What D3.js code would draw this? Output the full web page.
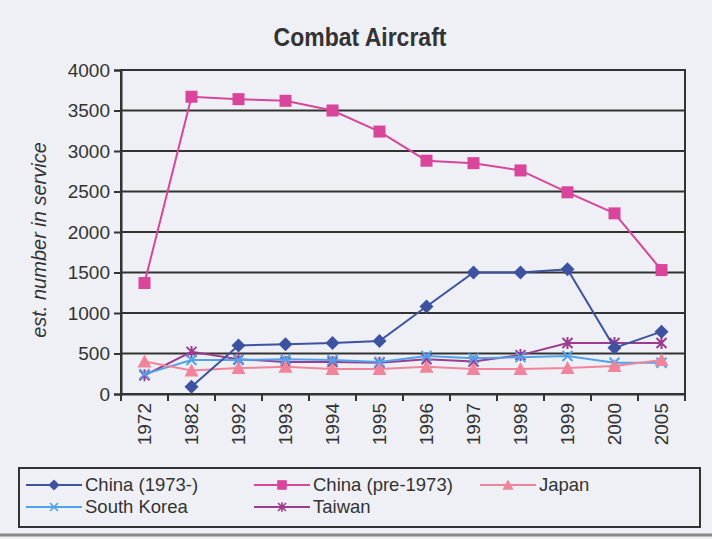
<!DOCTYPE html>
<html><head><meta charset="utf-8">
<script src="https://cdn.jsdelivr.net/npm/d3@7"></script>
<style>
body{margin:0;background:#eef0f5;}
svg{display:block;}
</style></head>
<body>
<svg id="c" width="712" height="539"></svg>
<script>
const categories = ["1972","1982","1992","1993","1994","1995","1996","1997","1998","1999","2000","2005"];
const china1973 = [null,90,600,615,630,655,1080,1500,1500,1540,570,770];
const chinaPre1973 = [1370,3670,3640,3620,3500,3240,2880,2850,2760,2490,2230,1530];
const japan = [400,290,320,335,310,310,335,310,310,320,345,420];
const southKorea = [245,420,420,430,420,395,470,440,455,470,385,385];
const taiwan = [230,520,430,395,395,385,430,400,480,630,630,630];
const yTicks = [0,500,1000,1500,2000,2500,3000,3500,4000];

const series = [
  {name:"China (1973-)", values:china1973, color:"#3d52a1", marker:"diamond"},
  {name:"China (pre-1973)", values:chinaPre1973, color:"#d8459a", marker:"square"},
  {name:"Japan", values:japan, color:"#f0849a", marker:"triangle"},
  {name:"South Korea", values:southKorea, color:"#4ea3ea", marker:"x"},
  {name:"Taiwan", values:taiwan, color:"#9c3c8e", marker:"star"}
];

const FONT = "'Liberation Sans',Arial,sans-serif";
const svg = d3.select("#c");
const L=121, R=685, T=70, B=394;
const x = d3.scaleBand().domain(categories).range([L,R]);
const y = d3.scaleLinear().domain([0,4000]).range([B,T]);

// title
svg.append("text").attr("transform","translate(360,46) scale(0.92,1)").attr("text-anchor","middle")
  .attr("font-family",FONT).attr("font-weight","bold")
  .attr("font-size",25).attr("fill","#333").text("Combat Aircraft");

// gridlines
svg.append("g").selectAll("line").data(yTicks).join("line")
  .attr("x1",L).attr("x2",R).attr("y1",d=>y(d)).attr("y2",d=>y(d))
  .attr("stroke","#333").attr("stroke-width",2);
svg.append("rect").attr("x",L).attr("y",T).attr("width",R-L).attr("height",B-T)
  .attr("fill","none").attr("stroke","#333").attr("stroke-width",2);

// y axis
const ya = svg.append("g").attr("transform",`translate(${L},0)`)
  .call(d3.axisLeft(y).tickValues(yTicks).tickFormat(d3.format("d")).tickSize(7).tickPadding(4));
ya.select(".domain").attr("stroke","#333").attr("stroke-width",2);
ya.selectAll(".tick line").attr("stroke","#333").attr("stroke-width",2);
ya.selectAll("text").attr("font-family",FONT).attr("font-size",19).attr("fill","#333");

// x axis
const xa = svg.append("g").attr("transform",`translate(0,${B})`)
  .call(d3.axisBottom(x).tickSize(0).tickPadding(0));
xa.select(".domain").attr("stroke","#333").attr("stroke-width",2);
xa.selectAll("text").attr("font-family",FONT).attr("font-size",19).attr("fill","#333")
  .attr("transform","rotate(-90)").attr("text-anchor","end").attr("dx","-9").attr("dy","0.35em").attr("y",0).attr("x",0);
// category separator ticks
svg.append("g").selectAll("line").data(categories.concat(["end"])).join("line")
  .attr("x1",(d,i)=>L+i*x.step()).attr("x2",(d,i)=>L+i*x.step())
  .attr("y1",B).attr("y2",B+7).attr("stroke","#333").attr("stroke-width",2);

// y title
svg.append("text").attr("transform","translate(46,240) rotate(-90)").attr("text-anchor","middle")
  .attr("font-family",FONT).attr("font-style","italic").attr("font-size",20)
  .attr("fill","#333").text("est. number in service");

function drawMarker(g, type, color){
  if(type==="diamond") g.append("path").attr("d","M0,-7L7,0L0,7L-7,0Z").attr("fill",color);
  else if(type==="square") g.append("rect").attr("x",-6).attr("y",-6).attr("width",12).attr("height",12).attr("fill",color);
  else if(type==="triangle") g.append("path").attr("d","M0,-7L7,6L-7,6Z").attr("fill",color);
  else if(type==="x") g.append("path").attr("d","M-5,-5L5,5M5,-5L-5,5").attr("stroke",color).attr("stroke-width",2);
  else if(type==="star") g.append("path").attr("d","M-5,-5L5,5M5,-5L-5,5M0,-6L0,6").attr("stroke",color).attr("stroke-width",2);
}

const line = d3.line().defined(d=>d.v!=null).x(d=>x(d.c)+x.bandwidth()/2).y(d=>y(d.v));
[...series].reverse().forEach(s=>{
  const pts = categories.map((c,i)=>({c, v:s.values[i]}));
  svg.append("path").datum(pts).attr("d",line).attr("fill","none").attr("stroke",s.color).attr("stroke-width",2);
  pts.filter(p=>p.v!=null).forEach(p=>{
    const g = svg.append("g").attr("transform",`translate(${x(p.c)+x.bandwidth()/2},${y(p.v)})`);
    drawMarker(g, s.marker, s.color);
  });
});

// legend
svg.append("rect").attr("x",19).attr("y",468).attr("width",681).attr("height",59)
  .attr("fill","none").attr("stroke","#333").attr("stroke-width",2);
const legPos = [[26,485],[254,485],[480,485],[26,507],[254,507]];
series.forEach((s,i)=>{
  const [lx,ly] = legPos[i];
  const g = svg.append("g").attr("transform",`translate(${lx},${ly})`);
  g.append("line").attr("x1",0).attr("x2",56).attr("stroke",s.color).attr("stroke-width",2);
  const m = g.append("g").attr("transform","translate(28,0) scale(0.8)");
  drawMarker(m, s.marker, s.color);
  g.append("text").attr("x",59).attr("y",0).attr("dy","0.35em")
    .attr("font-family",FONT).attr("font-size",18.5).attr("fill","#333").text(s.name);
});
// bottom separator
svg.append("line").attr("x1",0).attr("x2",712).attr("y1",535).attr("y2",535).attr("stroke","#888").attr("stroke-width",3);
</script>
</body></html>
